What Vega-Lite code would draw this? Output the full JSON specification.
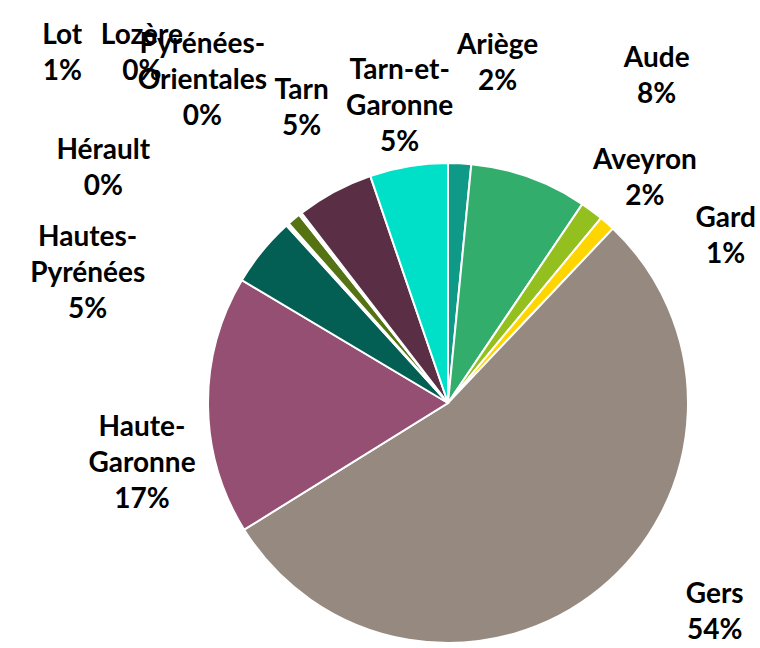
{
  "$schema": "https://vega.github.io/schema/vega-lite/v6.json",
  "width": 624,
  "height": 490,
  "autosize": {"type": "none"},
  "padding": {"left": 136, "top": 158, "right": 0, "bottom": 0},
  "background": "#ffffff",
  "config": {
    "view": {"stroke": null},
    "text": {"font": "Lato", "fontWeight": "bold", "fontSize": 28, "lineHeight": 36, "lineBreak": "\n", "color": "#000000", "align": "center", "baseline": "middle"}
  },
  "data": {
    "values": [
      {"name": "Ariège", "label": "Ariège", "value": 0.0155},
      {"name": "Aude", "label": "Aude", "value": 0.079},
      {"name": "Aveyron", "label": "Aveyron", "value": 0.0155},
      {"name": "Gard", "label": "Gard", "value": 0.0105},
      {"name": "Gers", "label": "Gers", "value": 0.541},
      {"name": "Haute-Garonne", "label": "Haute-\nGaronne", "value": 0.174},
      {"name": "Hautes-Pyrénées", "label": "Hautes-\nPyrénées", "value": 0.047},
      {"name": "Hérault", "label": "Hérault", "value": 0.002},
      {"name": "Lot", "label": "Lot", "value": 0.009},
      {"name": "Lozère", "label": "Lozère", "value": 0.001},
      {"name": "Pyrénées-Orientales", "label": "Pyrénées-\nOrientales", "value": 0.001},
      {"name": "Tarn", "label": "Tarn", "value": 0.052},
      {"name": "Tarn-et-Garonne", "label": "Tarn-et-\nGaronne", "value": 0.0525}
    ]
  },
  "encoding": {
    "theta": {"field": "value", "type": "quantitative", "stack": true},
    "order": {"field": "name", "type": "nominal", "sort": "ascending"}
  },
  "layer": [
    {
      "mark": {"type": "arc", "radius": 240, "stroke": "#ffffff", "strokeWidth": 2},
      "encoding": {
        "color": {
          "field": "name", "type": "nominal", "legend": null,
          "scale": {
            "domain": ["Ariège", "Aude", "Aveyron", "Gard", "Gers", "Haute-Garonne", "Hautes-Pyrénées", "Hérault", "Lot", "Lozère", "Pyrénées-Orientales", "Tarn", "Tarn-et-Garonne"],
            "range": ["#0f9a88", "#33ad6c", "#93c01f", "#ffd500", "#968a80", "#944f72", "#035f53", "#ffffff", "#567314", "#ffffff", "#ffffff", "#5a2e44", "#00e0c8"]
          }
        }
      }
    },
    {"mark": {"type": "text", "radius": 341, "dx": 33, "dy": -16}, "encoding": {"text": {"condition": {"test": "datum.name === 'Ariège'", "field": "label"}, "value": ""}}},
    {"mark": {"type": "text", "radius": 341, "dx": 33, "dy": 20}, "encoding": {"text": {"condition": {"test": "datum.name === 'Ariège'", "field": "value", "type": "quantitative", "format": ".0%"}, "value": ""}}},
    {"mark": {"type": "text", "radius": 377, "dx": 81, "dy": 11}, "encoding": {"text": {"condition": {"test": "datum.name === 'Aude'", "field": "label"}, "value": ""}}},
    {"mark": {"type": "text", "radius": 377, "dx": 81, "dy": 47}, "encoding": {"text": {"condition": {"test": "datum.name === 'Aude'", "field": "value", "type": "quantitative", "format": ".0%"}, "value": ""}}},
    {"mark": {"type": "text", "radius": 297, "dx": 19, "dy": -4}, "encoding": {"text": {"condition": {"test": "datum.name === 'Aveyron'", "field": "label"}, "value": ""}}},
    {"mark": {"type": "text", "radius": 297, "dx": 19, "dy": 32}, "encoding": {"text": {"condition": {"test": "datum.name === 'Aveyron'", "field": "value", "type": "quantitative", "format": ".0%"}, "value": ""}}},
    {"mark": {"type": "text", "radius": 309, "dx": 73, "dy": 47}, "encoding": {"text": {"condition": {"test": "datum.name === 'Gard'", "field": "label"}, "value": ""}}},
    {"mark": {"type": "text", "radius": 309, "dx": 73, "dy": 83}, "encoding": {"text": {"condition": {"test": "datum.name === 'Gard'", "field": "value", "type": "quantitative", "format": ".0%"}, "value": ""}}},
    {"mark": {"type": "text", "radius": 330, "dx": 58, "dy": -64}, "encoding": {"text": {"condition": {"test": "datum.name === 'Gers'", "field": "label"}, "value": ""}}},
    {"mark": {"type": "text", "radius": 330, "dx": 58, "dy": -28}, "encoding": {"text": {"condition": {"test": "datum.name === 'Gers'", "field": "value", "type": "quantitative", "format": ".0%"}, "value": ""}}},
    {"mark": {"type": "text", "radius": 307, "dx": 1, "dy": 22}, "encoding": {"text": {"condition": {"test": "datum.name === 'Haute-Garonne'", "field": "label"}, "value": ""}}},
    {"mark": {"type": "text", "radius": 307, "dx": 1, "dy": 94}, "encoding": {"text": {"condition": {"test": "datum.name === 'Haute-Garonne'", "field": "value", "type": "quantitative", "format": ".0%"}, "value": ""}}},
    {"mark": {"type": "text", "radius": 349, "dx": -90, "dy": 56}, "encoding": {"text": {"condition": {"test": "datum.name === 'Hautes-Pyrénées'", "field": "label"}, "value": ""}}},
    {"mark": {"type": "text", "radius": 349, "dx": -90, "dy": 128}, "encoding": {"text": {"condition": {"test": "datum.name === 'Hautes-Pyrénées'", "field": "value", "type": "quantitative", "format": ".0%"}, "value": ""}}},
    {"mark": {"type": "text", "radius": 405, "dx": -74, "dy": 49}, "encoding": {"text": {"condition": {"test": "datum.name === 'Hérault'", "field": "label"}, "value": ""}}},
    {"mark": {"type": "text", "radius": 405, "dx": -74, "dy": 85}, "encoding": {"text": {"condition": {"test": "datum.name === 'Hérault'", "field": "value", "type": "quantitative", "format": ".0%"}, "value": ""}}},
    {"mark": {"type": "text", "radius": 515, "dx": -55, "dy": 28}, "encoding": {"text": {"condition": {"test": "datum.name === 'Lot'", "field": "label"}, "value": ""}}},
    {"mark": {"type": "text", "radius": 515, "dx": -55, "dy": 64}, "encoding": {"text": {"condition": {"test": "datum.name === 'Lot'", "field": "value", "type": "quantitative", "format": ".0%"}, "value": ""}}},
    {"mark": {"type": "text", "radius": 463, "dx": -20, "dy": -3}, "encoding": {"text": {"condition": {"test": "datum.name === 'Lozère'", "field": "label"}, "value": ""}}},
    {"mark": {"type": "text", "radius": 463, "dx": -20, "dy": 33}, "encoding": {"text": {"condition": {"test": "datum.name === 'Lozère'", "field": "value", "type": "quantitative", "format": ".0%"}, "value": ""}}},
    {"mark": {"type": "text", "radius": 391, "dx": -6, "dy": -49}, "encoding": {"text": {"condition": {"test": "datum.name === 'Pyrénées-Orientales'", "field": "label"}, "value": ""}}},
    {"mark": {"type": "text", "radius": 391, "dx": -6, "dy": 23}, "encoding": {"text": {"condition": {"test": "datum.name === 'Pyrénées-Orientales'", "field": "value", "type": "quantitative", "format": ".0%"}, "value": ""}}},
    {"mark": {"type": "text", "radius": 328, "dx": 9, "dy": -23}, "encoding": {"text": {"condition": {"test": "datum.name === 'Tarn'", "field": "label"}, "value": ""}}},
    {"mark": {"type": "text", "radius": 328, "dx": 9, "dy": 13}, "encoding": {"text": {"condition": {"test": "datum.name === 'Tarn'", "field": "value", "type": "quantitative", "format": ".0%"}, "value": ""}}},
    {"mark": {"type": "text", "radius": 282, "dx": -2, "dy": -54}, "encoding": {"text": {"condition": {"test": "datum.name === 'Tarn-et-Garonne'", "field": "label"}, "value": ""}}},
    {"mark": {"type": "text", "radius": 282, "dx": -2, "dy": 18}, "encoding": {"text": {"condition": {"test": "datum.name === 'Tarn-et-Garonne'", "field": "value", "type": "quantitative", "format": ".0%"}, "value": ""}}}
  ]
}
